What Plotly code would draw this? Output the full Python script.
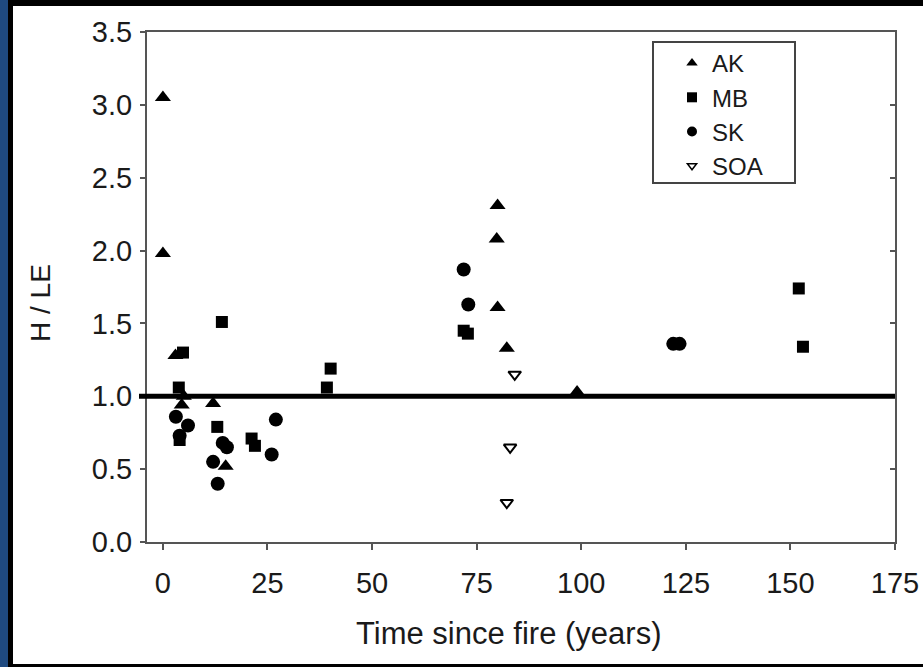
import plotly.graph_objects as go

# ---------------- data ----------------
ak_x = [0, 0, 3, 5, 4.5, 12, 15, 80, 79.8, 80, 82.2, 99]
ak_y = [3.05, 1.98, 1.28, 1.00, 0.94, 0.95, 0.52, 2.31, 2.08, 1.61, 1.33, 1.03]

mb_x = [4.8, 3.8, 4.0, 14.1, 13, 21.2, 22, 39.2, 40.1, 71.9, 72.9, 152, 153]
mb_y = [1.30, 1.06, 0.70, 1.51, 0.79, 0.71, 0.66, 1.06, 1.19, 1.45, 1.43, 1.74, 1.34]

sk_x = [3.1, 6, 4.0, 12, 13.1, 14.3, 15.3, 27, 26, 71.9, 73, 122, 123.5]
sk_y = [0.86, 0.80, 0.73, 0.55, 0.40, 0.68, 0.65, 0.84, 0.60, 1.87, 1.63, 1.36, 1.36]

soa_x = [84.1, 83, 82.2]
soa_y = [1.15, 0.65, 0.27]

series_names = ["AK", "MB", "SK", "SOA"]
ref_line = 1.0

x_ticks = [0, 25, 50, 75, 100, 125, 150, 175]
y_ticks = [0.0, 0.5, 1.0, 1.5, 2.0, 2.5, 3.0, 3.5]
x_title = "Time since fire (years)"
y_title = "H / LE"

# ---------------- layout geometry ----------------
W, H = 923, 667
L, R, T, B = 147, 895, 32, 542  # plot area in pixels
PW, PH = R - L, B - T


def px(x):
    return (x - L) / PW


def py(y):
    return (B - y) / PH


FONT = "Liberation Sans, Arial, Helvetica, sans-serif"
TXT = "#1a1a1a"

fig = go.Figure()

symbols = ["triangle-up", "square", "circle", "triangle-down-open"]
sizes = [14, 12, 14, 11]
datasets = [(ak_x, ak_y), (mb_x, mb_y), (sk_x, sk_y), (soa_x, soa_y)]

for name, sym, sz, (xs, ys) in zip(series_names, symbols, sizes, datasets):
    is_open = "open" in sym
    fig.add_trace(go.Scatter(
        x=xs, y=ys, mode="markers", name=name, showlegend=False,
        marker=dict(symbol=sym, size=sz, color="black",
                    line=dict(color="black", width=2 if is_open else 0)),
    ))
    # legend-only entry with smaller symbol
    fig.add_trace(go.Scatter(
        x=[None], y=[None], mode="markers", name=name, showlegend=True,
        marker=dict(symbol=sym, size=8 if is_open else 10, color="black",
                    line=dict(color="black", width=1.5 if is_open else 0)),
    ))

# invisible trace for the mirrored right axis
fig.add_trace(go.Scatter(x=[None], y=[None], yaxis="y2", showlegend=False))

axis_col = "#555555"
fig.update_layout(
    width=W, height=H,
    margin=dict(l=L, r=W - R, t=T, b=H - B, pad=0, autoexpand=False),
    paper_bgcolor="white", plot_bgcolor="white",
    font=dict(family=FONT, color=TXT),
    xaxis=dict(range=[-3.8, 175], tickvals=x_ticks, ticktext=[str(v) for v in x_ticks],
               showgrid=False, zeroline=False, showline=True, linecolor=axis_col, linewidth=2,
               mirror=True, ticks="outside", ticklen=6, tickwidth=2, tickcolor=axis_col,
               automargin=False,
               tickfont=dict(size=29, family=FONT, color=TXT), ticklabelstandoff=8),
    yaxis=dict(range=[0, 3.5], tickvals=y_ticks, ticktext=[f"{v:.1f}" for v in y_ticks],
               showgrid=False, zeroline=False, showline=True, linecolor=axis_col, linewidth=2,
               mirror=False, ticks="outside", ticklen=5, tickwidth=2, tickcolor=axis_col,
               automargin=False,
               tickfont=dict(size=29, family=FONT, color=TXT), ticklabelstandoff=2),
    yaxis2=dict(range=[0, 3.5], tickvals=y_ticks, overlaying="y", side="right",
                showgrid=False, zeroline=False, showline=True, linecolor=axis_col, linewidth=2,
                ticks="inside", ticklen=5, tickwidth=2, tickcolor=axis_col,
                automargin=False, showticklabels=False),
    legend=dict(x=px(672), y=py(41), xanchor="left", yanchor="top",
                bgcolor="rgba(0,0,0,0)", borderwidth=0,
                font=dict(size=24, family=FONT, color=TXT),
                itemwidth=30, tracegroupgap=0),
    showlegend=True,
)

shapes = []
# reference line at H/LE = 1
shapes.append(dict(type="line", xref="paper", yref="y", x0=px(139), x1=1, y0=ref_line, y1=ref_line,
                   line=dict(color="black", width=5), layer="above"))
# legend box
shapes.append(dict(type="rect", xref="paper", yref="paper", x0=px(653), x1=px(795), y0=py(183), y1=py(42),
                   line=dict(color="#444444", width=2)))
# frame decorations
shapes.append(dict(type="rect", xref="paper", yref="paper", x0=px(0), x1=px(8), y0=py(H), y1=py(0),
                   fillcolor="#1f4a80", line=dict(width=0)))
shapes.append(dict(type="rect", xref="paper", yref="paper", x0=px(8), x1=px(13), y0=py(H), y1=py(0),
                   fillcolor="black", line=dict(width=0)))
shapes.append(dict(type="rect", xref="paper", yref="paper", x0=px(8), x1=px(W), y0=py(6), y1=py(0),
                   fillcolor="black", line=dict(width=0)))
shapes.append(dict(type="rect", xref="paper", yref="paper", x0=px(8), x1=px(W), y0=py(H), y1=py(664),
                   fillcolor="black", line=dict(width=0)))
fig.update_layout(shapes=shapes)

annotations = [
    dict(text=x_title, xref="paper", yref="paper", x=px(508), y=py(633), showarrow=False,
         xanchor="center", yanchor="middle", font=dict(size=31, family=FONT, color=TXT)),
    dict(text=y_title, xref="paper", yref="paper", x=px(40), y=py(303), showarrow=False,
         xanchor="center", yanchor="middle", textangle=-90,
         font=dict(size=28, family=FONT, color=TXT)),
]
fig.update_layout(annotations=annotations)

fig.write_html("out.html")
